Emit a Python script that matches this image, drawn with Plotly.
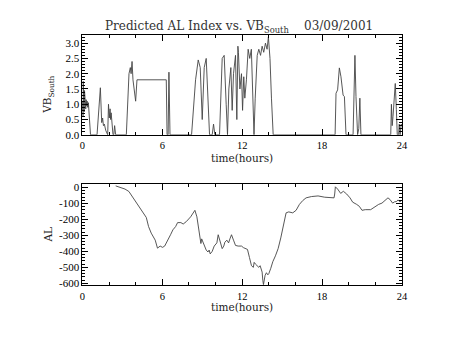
import plotly.graph_objects as go

# ---- Top panel: VB_South (time in hours) ----
vb_time = [0.00, 0.02, 0.04, 0.06, 0.08, 0.10, 0.13, 0.16, 0.19, 0.22, 0.25, 0.28, 0.32, 0.36, 0.40, 0.45, 0.50, 0.55, 0.61,
           1.10, 1.35, 1.45, 1.52, 1.58, 1.65, 1.75, 1.85,
           1.90, 1.96, 2.02, 2.08, 2.12, 2.16, 2.20, 2.24, 2.30, 2.36, 2.42, 2.50,
           3.30, 3.50, 3.60, 3.66, 3.73, 3.80, 3.90, 4.00, 4.10, 6.30, 6.36, 6.44, 6.50, 6.58,
           8.20, 8.50, 8.70, 8.85, 9.00, 9.15, 9.30, 9.40, 9.55, 9.75, 9.85, 9.95,
           10.30, 10.50, 10.65, 10.80, 10.90, 11.00, 11.15, 11.25, 11.35, 11.50, 11.60, 11.68, 11.72,
           11.83, 11.95, 12.03, 12.12, 12.20, 12.32, 12.45, 12.57, 12.69, 12.80, 12.89,
           12.98, 13.06, 13.13, 13.25, 13.38, 13.50, 13.62, 13.75, 13.87, 13.97, 14.09, 14.20, 14.33,
           18.98, 19.05, 19.17, 19.30, 19.42, 19.48, 19.58, 19.68, 19.80,
           20.33, 20.40, 20.47, 20.55, 20.67, 20.76, 20.84, 20.92,
           23.16, 23.21, 23.27, 23.33, 23.42, 23.50, 23.58, 23.65, 23.75, 23.80, 23.86, 23.95, 24.00]
vb_south = [0.80, 1.10, 0.60, 1.75, 0.90, 1.30, 0.75, 1.45, 1.00, 1.25, 0.85, 1.15, 0.95, 1.10, 0.90, 1.05, 0.60, 0.30, 0.00,
            0.00, 1.54, 0.40, 0.55, 0.30, 0.35, 0.15, 0.00,
            0.00, 1.00, 0.55, 0.85, 0.50, 0.72, 0.40, 0.20, 0.00, 0.00, 0.30, 0.00,
            0.00, 2.00, 2.20, 2.00, 2.40, 1.80, 1.40, 1.10, 1.80, 1.80, 0.00, 0.00, 2.05, 0.00,
            0.00, 1.80, 2.45, 2.20, 0.50, 2.20, 2.50, 1.50, 0.00, 0.00, 0.35, 0.00,
            0.00, 2.50, 2.60, 1.00, 0.00, 1.50, 2.20, 0.80, 2.00, 2.60, 0.50, 2.90, 2.70,
            1.50, 2.00, 0.80, 1.90, 1.20, 1.80, 2.80, 2.50, 2.80, 1.00, 0.00,
            1.20, 2.00, 2.60, 2.80, 2.60, 2.90, 2.70, 3.00, 2.80, 3.20, 2.50, 1.20, 0.00,
            0.00, 1.36, 1.47, 2.19, 1.90, 1.68, 1.30, 1.25, 0.00,
            0.00, 1.80, 2.60, 1.25, 0.00, 0.20, 1.20, 0.00,
            0.00, 1.00, 0.30, 0.60, 1.25, 1.68, 0.83, 0.00, 0.00, 0.35, 0.00, 0.35, 0.30]

# ---- Bottom panel: AL index ----
al_time = [2.50, 2.85, 3.20, 3.49, 3.75, 4.10, 4.35, 4.60, 4.80, 4.97, 5.17, 5.47, 5.64, 5.84, 6.02, 6.18, 6.43, 6.62,
           6.80, 7.00, 7.15, 7.40, 7.57, 7.80, 8.13, 8.38, 8.45, 8.60, 8.70, 8.83, 8.90, 8.96, 9.13, 9.30, 9.43,
           9.52, 9.60, 9.75, 9.90, 10.02, 10.10, 10.20, 10.32, 10.50, 10.62, 10.70, 10.85, 10.98, 11.08, 11.20,
           11.35, 11.50, 11.70, 11.95, 12.10, 12.40, 12.55, 12.70, 12.84, 12.90, 13.00, 13.10, 13.25, 13.35,
           13.50, 13.55, 13.60, 13.72, 13.82, 13.93, 14.00, 14.15, 14.30, 14.50, 14.70, 14.90, 15.05, 15.20,
           15.30, 15.50, 15.80, 16.05, 16.30, 16.55, 16.80, 17.20, 17.70, 18.20, 18.90, 18.95, 19.00, 19.17,
           19.40, 19.60, 19.85, 20.10, 20.30, 20.60, 20.80, 21.00, 21.25, 21.65, 21.85, 22.00, 22.25, 22.50,
           22.75, 22.95, 23.10, 23.30, 23.45, 23.60, 23.70, 23.85, 24.00]
al_index = [10, 2, -10, -25, -57, -102, -137, -163, -188, -245, -286, -330, -380, -367, -375, -367, -330, -296,
            -265, -245, -220, -220, -229, -214, -184, -150, -143, -184, -245, -326, -351, -322, -363, -392, -404,
            -392, -416, -400, -367, -351, -347, -296, -330, -383, -367, -343, -330, -347, -322, -296,
            -330, -363, -367, -367, -377, -388, -439, -490, -500, -469, -480, -486, -500, -490,
            -530, -581, -608, -551, -534, -547, -540, -506, -465, -428, -383, -316, -255, -200,
            -159, -153, -159, -143, -106, -82, -65, -57, -53, -61, -65, -41, 4, -10,
            -37, -24, -41, -65, -92, -106, -118, -143, -139, -139, -128, -118, -106, -98,
            -78, -65, -75, -98, -90, -88, -78, -90, -80]

vb_ticks = [0.0, 0.5, 1.0, 1.5, 2.0, 2.5, 3.0]
al_ticks = [0, -100, -200, -300, -400, -500, -600]
al_ticktext = ["0", "-100", "-200", "-300", "-400", "-500", "-600"]
hour_ticks = [0, 6, 12, 18, 24]

W, H = 454, 341
def px(x):
    return x / W
def py(y):
    return 1 - y / H

SERIF = "DejaVu Serif"
TICKFONT = dict(family="Liberation Serif", size=11, color="black")
XTICKFONT = dict(family="Liberation Serif", size=10.5, color="black")
LINE = dict(color="#444444", width=0.9)

fig = go.Figure()
fig.add_trace(go.Scatter(x=vb_time, y=vb_south, mode="lines", line=LINE, xaxis="x", yaxis="y", showlegend=False))
fig.add_trace(go.Scatter(x=al_time, y=al_index, mode="lines", line=LINE, xaxis="x2", yaxis="y2", showlegend=False))

common_x = dict(range=[0, 24], tickvals=hour_ticks, ticks="inside", ticklen=6, tickcolor="black",
                showline=True, linecolor="black", linewidth=1, mirror="allticks", showgrid=False, zeroline=False,
                tickfont=XTICKFONT, domain=[px(81), px(407)], ticklabelstandoff=1,
                minor=dict(dtick=2, ticks="inside", ticklen=3, tickcolor="black", showgrid=False))

fig.update_layout(
    width=W, height=H, margin=dict(l=0, r=0, t=0, b=0),
    paper_bgcolor="white", plot_bgcolor="white",
    xaxis=dict(anchor="y", **common_x),
    yaxis=dict(anchor="x", domain=[py(136), py(34)], range=[0, 3.26], tickvals=vb_ticks, tickformat=".1f",
               ticks="inside", ticklen=6, tickcolor="black", showline=True, linecolor="black", linewidth=1,
               mirror="allticks", showgrid=False, zeroline=False, tickfont=TICKFONT,
               minor=dict(dtick=0.1, tick0=0, ticks="inside", ticklen=3, tickcolor="black", showgrid=False)),
    xaxis2=dict(anchor="y2", **common_x),
    yaxis2=dict(anchor="x2", domain=[py(290), py(186)], range=[-612, 24], tickvals=al_ticks, ticktext=al_ticktext,
                ticks="inside", ticklen=6, tickcolor="black", showline=True, linecolor="black", linewidth=1,
                mirror="allticks", showgrid=False, zeroline=False, tickfont=TICKFONT,
                minor=dict(dtick=20, tick0=0, ticks="inside", ticklen=3, tickcolor="black", showgrid=False)),
)

ann = dict(xref="paper", yref="paper", showarrow=False, font=dict(family=SERIF, size=10.5, color="#222"))
title_font = dict(family=SERIF, size=12, color="#333")
fig.add_annotation(x=px(102), y=py(26), xanchor="left", yanchor="middle",
                   text="Predicted AL Index vs. VB<sub>South</sub>", **{**ann, "font": title_font})
fig.add_annotation(x=px(305), y=py(25), xanchor="left", yanchor="middle",
                   text="03/09/2001", **{**ann, "font": title_font})
fig.add_annotation(x=px(244), y=py(159.5), xanchor="center", yanchor="middle", text="time(hours)", **ann)
fig.add_annotation(x=px(244), y=py(312.5), xanchor="center", yanchor="middle", text="time(hours)", **ann)
fig.add_annotation(x=px(46), y=py(95), xanchor="center", yanchor="middle", textangle=-90,
                   text="VB<sub>South</sub>", **ann)
fig.add_annotation(x=px(46), y=py(238), xanchor="center", yanchor="middle", textangle=-90, text="AL", **ann)

fig.write_html("out.html")
